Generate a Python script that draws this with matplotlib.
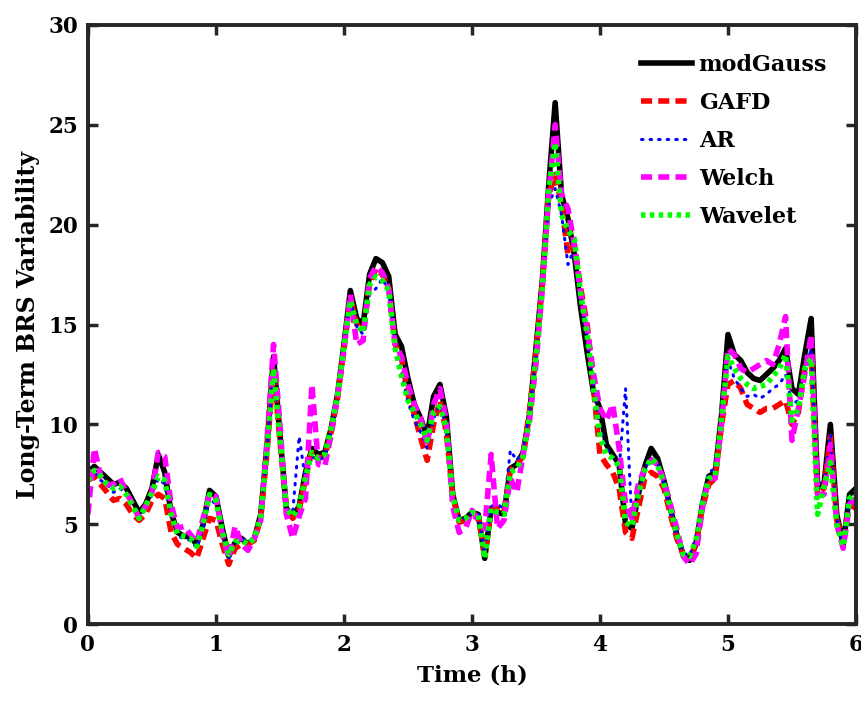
import matplotlib
matplotlib.use("Agg")
import matplotlib.pyplot as plt
import numpy as np

# time axis in hours, 0.05 h steps
time_h = np.arange(0, 121) * 0.05

mod_gauss = [
    7.6, 7.9, 7.6, 7.3, 7.0, 7.1, 6.8, 6.2, 5.6, 6.0, 6.8, 8.5, 7.6, 5.6, 4.6, 4.4, 4.4, 4.0, 5.0, 6.7,
    6.4, 4.8, 3.4, 4.1, 4.3, 4.0, 4.3, 5.5, 9.0, 13.4, 9.5, 5.8, 5.4, 5.9, 7.6, 8.8, 8.5, 8.6, 9.8, 11.5,
    14.0, 16.7, 15.3, 15.0, 17.5, 18.3, 18.1, 17.4, 14.5, 13.9, 12.3, 11.0, 10.3, 9.4, 11.4, 12.0, 10.4, 6.5, 5.2, 5.3,
    5.6, 5.5, 3.3, 5.8, 5.6, 5.5, 7.8, 8.0, 8.6, 10.5, 13.8, 17.2, 22.0, 26.1, 21.5, 20.3, 18.5, 15.8, 13.6, 11.6,
    10.8, 9.0, 8.5, 8.0, 5.0, 4.8, 6.5, 7.9, 8.8, 8.3, 7.2, 5.8, 4.5, 3.5, 3.2, 4.0, 6.0, 7.4, 7.6, 10.5,
    14.5, 13.5, 13.2, 12.6, 12.3, 12.2, 12.5, 12.8, 13.2, 13.8, 11.8, 11.5, 13.5, 15.3, 7.0, 7.0, 10.0, 5.5, 4.0, 6.5,
    6.8]

gafd = [
    7.2, 7.4, 7.0, 6.6, 6.2, 6.3, 6.0, 5.5, 5.2, 5.5, 6.2, 6.5, 6.3, 4.6, 4.0, 3.8, 3.6, 3.3, 4.3, 5.3,
    5.2, 4.0, 3.0, 3.8, 4.0, 4.0, 4.2, 5.3, 8.7, 12.8, 9.2, 5.8, 5.3, 5.7, 7.3, 8.7, 8.3, 8.4, 9.6, 11.3,
    13.8, 16.3, 15.0, 14.7, 17.0, 17.8, 17.5, 16.8, 14.0, 13.3, 11.5, 10.5, 9.3, 8.2, 10.0, 11.2, 9.6, 6.4, 5.1, 5.2,
    5.4, 5.4, 3.5, 5.7, 5.8, 5.6, 7.7, 8.0, 8.4, 10.7, 13.6, 17.0, 21.5, 22.5, 21.0, 18.5, 19.0, 16.8, 15.0, 11.8,
    8.5, 8.0, 7.6, 6.8, 4.6, 4.3, 5.8, 7.3, 7.6, 7.4, 6.8, 5.5, 4.3, 3.5, 3.3, 4.0, 5.8, 7.0, 7.3, 10.0,
    12.0, 12.2, 11.8, 11.0, 10.8, 10.6, 10.8, 10.8, 11.0, 11.2, 10.0, 10.6, 12.8, 13.5, 6.5, 6.8, 9.4, 5.2, 4.3, 6.0,
    5.8]

ar = [
    7.5, 7.6, 7.2, 7.0, 6.6, 6.8, 6.5, 5.8, 5.3, 5.8, 6.5, 7.3, 7.0, 5.3, 4.4, 4.3, 4.2, 3.8, 4.8, 6.3,
    6.0, 4.5, 3.3, 4.0, 4.3, 4.1, 4.4, 5.5, 8.8, 12.8, 9.4, 5.8, 5.6, 9.4, 7.2, 8.4, 8.2, 8.4, 9.6, 11.2,
    13.8, 16.2, 14.9, 14.5, 16.5, 16.8, 17.3, 16.7, 13.8, 12.5, 11.1, 10.2, 9.6, 8.8, 10.3, 11.0, 9.8, 6.3, 5.2, 5.3,
    5.6, 5.5, 3.6, 5.9, 6.0, 5.8, 8.7, 8.2, 8.7, 10.6, 13.4, 16.8, 21.0, 21.8, 20.5, 18.0, 18.8, 16.5, 14.5, 11.8,
    9.8, 8.8, 8.4, 7.8, 11.8, 5.0, 6.3, 7.8, 8.3, 8.0, 7.0, 5.8, 4.5, 3.6, 3.4, 4.4, 6.1, 7.6, 7.8, 10.2,
    13.2, 12.3, 11.8, 11.4, 11.5, 11.3, 11.5, 11.8, 12.0, 12.5, 11.0, 11.2, 12.5, 13.8, 6.8, 6.9, 9.5, 5.3, 4.0, 6.3,
    6.5]

welch = [
    5.5, 8.8, 7.4, 7.0, 7.0, 7.3, 6.6, 6.0, 5.3, 5.9, 6.6, 8.6, 8.4, 6.0, 4.8, 4.9, 4.5, 4.1, 5.3, 6.5,
    6.4, 4.5, 3.3, 4.9, 4.0, 3.7, 4.3, 5.2, 9.3, 14.0, 10.0, 5.5, 4.3, 5.4, 6.3, 12.0, 8.0, 7.9, 9.5, 11.4,
    13.7, 16.5, 14.0, 14.2, 17.3, 17.9, 17.6, 16.8, 14.0, 13.4, 12.0, 11.0, 10.3, 9.0, 11.0, 11.8, 10.2, 5.9, 4.6, 4.8,
    5.7, 5.2, 4.8, 8.5, 4.8, 5.2, 7.3, 6.6, 8.5, 10.2, 13.0, 16.8, 21.5, 25.0, 21.5, 20.8, 19.0, 16.5, 14.8, 12.5,
    10.8, 10.2, 11.0, 8.8, 6.0, 5.3, 7.0, 7.8, 8.2, 8.0, 7.2, 6.0, 4.8, 3.4, 3.0, 3.5, 5.8, 7.3, 7.3, 10.0,
    13.8, 13.5, 12.8, 12.6, 12.8, 13.0, 13.2, 13.0, 14.0, 15.4, 9.2, 10.8, 12.5, 14.5, 6.5, 6.5, 9.0, 5.0, 3.8, 6.0,
    6.3]

wavelet = [
    7.2, 7.7, 7.4, 7.0, 6.8, 6.9, 6.5, 5.9, 5.3, 5.9, 6.6, 7.4, 7.2, 5.5, 4.5, 4.4, 4.3, 3.9, 5.0, 6.5,
    6.2, 4.6, 3.5, 4.1, 4.2, 4.0, 4.3, 5.4, 8.8, 12.8, 9.3, 5.8, 5.4, 5.9, 7.4, 8.6, 8.3, 8.5, 9.8, 11.4,
    13.9, 16.2, 15.0, 14.6, 17.0, 17.4, 17.2, 16.7, 13.8, 12.4, 11.2, 10.6, 10.0, 9.2, 10.6, 10.9, 9.8, 6.4, 5.2, 5.3,
    5.6, 5.5, 3.3, 5.8, 5.6, 5.5, 7.6, 7.8, 8.4, 10.4, 13.4, 16.8, 21.8, 24.1, 20.5, 19.7, 19.3, 16.5, 14.5, 11.8,
    9.4, 8.5, 8.3, 7.9, 5.1, 4.9, 6.5, 7.7, 8.3, 8.0, 7.0, 5.8, 4.5, 3.5, 3.4, 4.2, 6.0, 7.3, 7.4, 10.3,
    13.4, 12.8, 12.3, 12.0, 11.8, 11.9, 12.0, 12.4, 12.8, 13.5, 10.2, 10.8, 12.8, 13.3, 5.5, 6.9, 8.1, 5.0, 3.9, 6.3,
    6.6]

plt.rcParams['font.family'] = ['DejaVu Serif']
plt.rcParams['font.weight'] = 'bold'

fig = plt.figure(figsize=(8.62, 7.07), dpi=100)
ax = fig.add_axes([0.102, 0.117, 0.891, 0.848])

ax.plot(time_h, mod_gauss, color='black', lw=4.0, ls='-', label='modGauss')
ax.plot(time_h, gafd, color='#ff0000', lw=4.0, ls=(0, (2.0, 1.1)), label='GAFD')
ax.plot(time_h, ar, color='#0000ff', lw=2.2, ls=(0, (0.5, 2.3)), dash_capstyle='round', label='AR')
ax.plot(time_h, welch, color='#ff00ff', lw=4.0, ls=(0, (2.0, 1.1)), label='Welch')
ax.plot(time_h, wavelet, color='#00ff00', lw=4.0, ls=(0, (0.8, 0.8)), label='Wavelet')

ax.set_xlim(0, 6)
ax.set_ylim(0, 30)
ax.set_xticks(range(0, 7))
ax.set_yticks(range(0, 31, 5))
ax.set_xlabel('Time (h)', fontsize=16.5, fontweight='bold', labelpad=6)
ax.set_ylabel('Long-Term BRS Variability', fontsize=17, fontweight='bold', labelpad=6)

for s in ax.spines.values():
    s.set_linewidth(2.8)
    s.set_color('#262626')
ax.tick_params(direction='in', length=7, width=2.5, color='#262626', labelsize=15.5,
               top=True, right=True, pad=7)

leg = ax.legend(loc='upper right', frameon=False, fontsize=16, handlelength=2.3,
                handletextpad=0.3, labelspacing=0.72, borderaxespad=0.9)

fig.savefig('out.png', dpi=100)
